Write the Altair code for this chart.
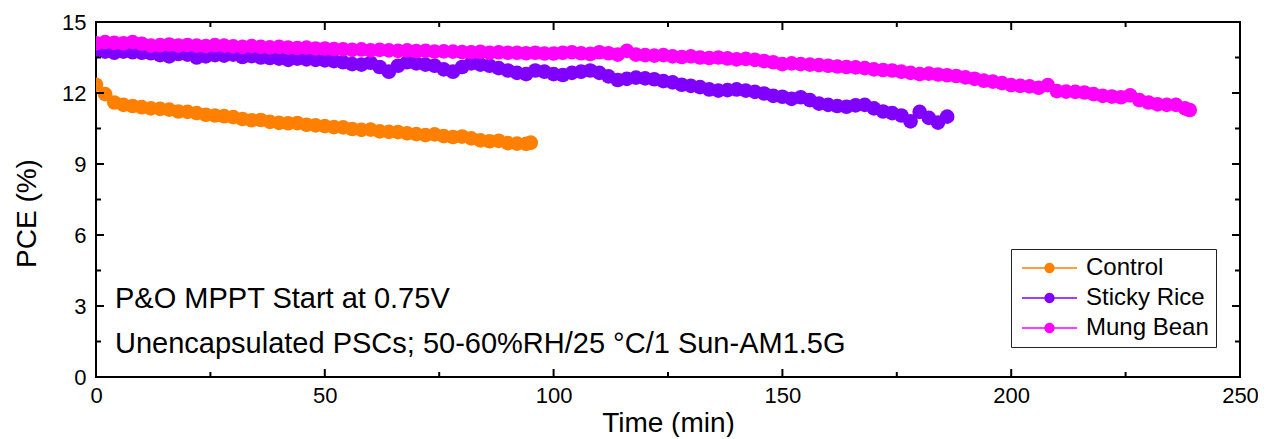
import math
import altair as alt
import pandas as pd

FONT = "Liberation Sans, Arial, sans-serif"
W, H = 1144, 355

series_names = ["Control", "Sticky Rice", "Mung Bean"]
series_colors = ["#FF8000", "#8000FF", "#FF00FF"]

control_time = list(range(0, 96, 2)) + [95]
control_pce = [
    12.35, 11.95, 11.6, 11.5, 11.45, 11.4, 11.35, 11.33, 11.3, 11.22,
    11.2, 11.15, 11.08, 11.05, 11.02, 10.98, 10.9, 10.85, 10.86, 10.78,
    10.74, 10.72, 10.73, 10.66, 10.63, 10.6, 10.56, 10.55, 10.48, 10.44,
    10.45, 10.38, 10.36, 10.35, 10.3, 10.26, 10.22, 10.25, 10.18, 10.14,
    10.16, 10.08, 10.0, 9.96, 9.98, 9.88, 9.86, 9.85,
    9.9,
]

sticky_time = list(range(0, 187, 2))
sticky_pce = [
    13.8, 13.75, 13.7, 13.75, 13.72, 13.7, 13.68, 13.6, 13.55, 13.65,
    13.62, 13.5, 13.55, 13.6, 13.58, 13.62, 13.52, 13.56, 13.5, 13.48,
    13.45, 13.4, 13.45, 13.42, 13.4, 13.38, 13.35, 13.3, 13.22, 13.2,
    13.28, 13.1, 12.9, 13.15, 13.3, 13.25, 13.2, 13.15, 13.0, 12.9,
    13.1, 13.25, 13.2, 13.15, 13.05, 12.95, 12.85, 12.8, 12.95, 12.9,
    12.8, 12.76, 12.85, 12.9, 12.95, 12.85, 12.7, 12.55, 12.6, 12.65,
    12.62, 12.58, 12.5, 12.45, 12.35, 12.3, 12.25, 12.15, 12.1, 12.12,
    12.15, 12.1, 12.05, 11.98, 11.88, 11.84, 11.75, 11.82, 11.7, 11.55,
    11.5, 11.45, 11.42, 11.48, 11.5, 11.35, 11.22, 11.15, 11.05, 10.8,
    11.2, 10.95, 10.75, 11.0,
]

mung_time = list(range(0, 239, 2)) + [239]
mung_pce = [
    14.1, 14.15, 14.12, 14.1, 14.15, 14.08, 14.0, 14.02, 14.05, 14.0,
    14.03, 14.0, 13.98, 14.02, 14.0, 13.97, 13.95, 13.98, 13.95, 13.93,
    13.95, 13.92, 13.9, 13.92, 13.88, 13.88, 13.86, 13.85, 13.82, 13.84,
    13.8, 13.82, 13.8, 13.78, 13.8, 13.77, 13.78, 13.75, 13.76, 13.75,
    13.73, 13.72, 13.74, 13.7, 13.72, 13.7, 13.7, 13.68, 13.7, 13.67,
    13.67, 13.7, 13.72, 13.68, 13.65, 13.72, 13.68, 13.62, 13.78, 13.62,
    13.6, 13.58, 13.6, 13.55, 13.52, 13.55, 13.5, 13.48, 13.5, 13.46,
    13.42, 13.44, 13.4, 13.35, 13.3, 13.22, 13.25, 13.22, 13.2, 13.18,
    13.15, 13.12, 13.1, 13.08, 13.05, 13.0, 12.97, 12.95, 12.9, 12.85,
    12.8, 12.82, 12.78, 12.75, 12.72, 12.66, 12.6, 12.52, 12.48, 12.42,
    12.33, 12.3, 12.28, 12.22, 12.33, 12.08, 12.06, 12.05, 12.02, 11.95,
    11.88, 11.85, 11.82, 11.9, 11.7, 11.6, 11.52, 11.5, 11.5, 11.35,
    11.28,
]

x_major = [0, 50, 100, 150, 200, 250]
x_minor = [25, 75, 125, 175, 225]
y_major = [0, 3, 6, 9, 12, 15]
y_minor = [1.5, 4.5, 7.5, 10.5, 13.5]

note1 = "P&O MPPT Start at 0.75V"
note2 = "Unencapsulated PSCs; 50-60%RH/25 \u00b0C/1 Sun-AM1.5G"

rows = []
for name, ts, vs in [
    ("Control", control_time, control_pce),
    ("Sticky Rice", sticky_time, sticky_pce),
    ("Mung Bean", mung_time, mung_pce),
]:
    for t, v in zip(ts, vs):
        rows.append({"series": name, "t": t, "pce": v})
df = pd.DataFrame(rows)

x_scale = alt.Scale(domain=[0, 250], nice=False, zero=False)
y_scale = alt.Scale(domain=[0, 15], nice=False, zero=False)
c_scale = alt.Scale(domain=series_names, range=series_colors)

x_axis = alt.Axis(
    values=x_major, ticks=False, domain=False, grid=False, tickSize=0,
    labelFont=FONT, labelFontSize=22, labelColor="black", labelPadding=8,
    labelFlush=False, title="Time (min)", titleFont=FONT, titleFontSize=28,
    titleFontWeight="normal", titleColor="black", titleY=54,
    titleBaseline="alphabetic",
)
y_axis = alt.Axis(
    values=y_major, ticks=False, domain=False, grid=False, tickSize=0,
    labelFont=FONT, labelFontSize=22, labelColor="black", labelPadding=10,
    labelFlush=False, title="PCE (%)", titleFont=FONT, titleFontSize=28,
    titleFontWeight="normal", titleColor="black", titleAngle=270,
    titleX=-61, titleY=191, titleAlign="center", titleBaseline="alphabetic",
)

# legend glyph: a thin bar (the line) plus a polygonal dot, all filled
cx, r = 1.625, 0.43
dot = "M" + "L".join(
    f"{cx + r * math.cos(2 * math.pi * k / 20):.3f},{r * math.sin(2 * math.pi * k / 20):.3f}"
    for k in range(20)
) + "Z"
legend_path = "M-0.667,-0.06L3.917,-0.06L3.917,0.06L-0.667,0.06Z" + dot

legend = alt.Legend(
    title=None, orient="none", legendX=915, legendY=227,
    symbolType=legend_path, symbolSize=576, symbolStrokeWidth=0,
    labelFontSize=24, labelColor="black",
    labelOffset=44, rowPadding=6, padding=7, strokeColor="#222222",
    fillColor="white",
)

base = alt.Chart(df)
lines = base.mark_line(strokeWidth=1, clip=True).encode(
    x=alt.X("t:Q", scale=x_scale, axis=x_axis),
    y=alt.Y("pce:Q", scale=y_scale, axis=y_axis),
    stroke=alt.Stroke("series:N", scale=c_scale, legend=legend),
    detail="series:N",
)
points = base.mark_point(filled=True, size=215, strokeWidth=0, opacity=1, clip=True).encode(
    x=alt.X("t:Q", scale=x_scale, axis=x_axis),
    y=alt.Y("pce:Q", scale=y_scale, axis=y_axis),
    fill=alt.Fill("series:N", scale=c_scale, legend=legend),
)


def xticks(vals, length):
    d = pd.DataFrame({"t": vals})
    c = alt.Chart(d)
    bottom = c.mark_rule(color="black", strokeWidth=2).encode(
        x=alt.X("t:Q", scale=x_scale, axis=x_axis), y=alt.value(H), y2=alt.value(H - length))
    top = c.mark_rule(color="black", strokeWidth=2).encode(
        x=alt.X("t:Q", scale=x_scale, axis=x_axis), y=alt.value(0), y2=alt.value(length))
    return [bottom, top]


def yticks(vals, length):
    d = pd.DataFrame({"pce": vals})
    c = alt.Chart(d)
    left = c.mark_rule(color="black", strokeWidth=2).encode(
        y=alt.Y("pce:Q", scale=y_scale, axis=y_axis), x=alt.value(0), x2=alt.value(length))
    right = c.mark_rule(color="black", strokeWidth=2).encode(
        y=alt.Y("pce:Q", scale=y_scale, axis=y_axis), x=alt.value(W), x2=alt.value(W - length))
    return [left, right]


tick_layers = xticks(x_major, 8) + xticks(x_minor, 5) + yticks(y_major, 8) + yticks(y_minor, 5)

text1 = alt.Chart(pd.DataFrame({"label": [note1]})).mark_text(
    align="left", baseline="alphabetic", font=FONT, fontSize=29, color="black"
).encode(x=alt.value(19), y=alt.value(286), text="label:N")
text2 = alt.Chart(pd.DataFrame({"label": [note2]})).mark_text(
    align="left", baseline="alphabetic", font=FONT, fontSize=29, color="black"
).encode(x=alt.value(19), y=alt.value(331), text="label:N")

chart = alt.layer(lines, points, *tick_layers, text1, text2).properties(
    width=W, height=H,
    padding={"left": 88, "top": 14, "right": 18, "bottom": 60},
    autosize=alt.AutoSizeParams(type="none"),
    background="white",
).configure_view(stroke="black", strokeWidth=2).configure_legend(labelFont=FONT)

chart.save("out.html", embed_options={"renderer": "svg", "actions": False})
